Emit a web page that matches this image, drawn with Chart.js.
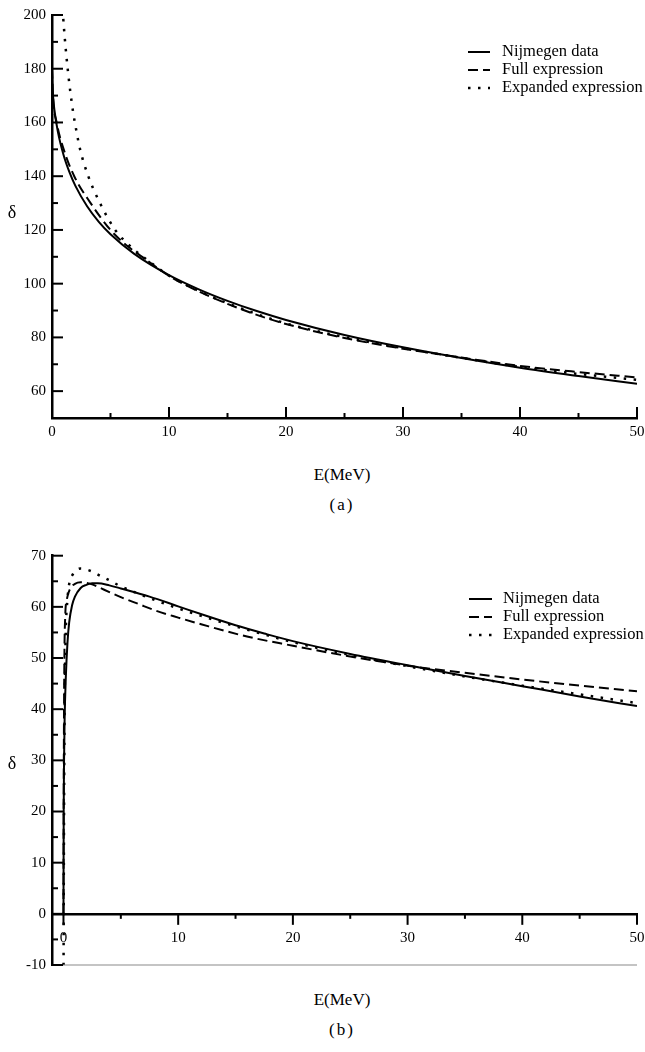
<!DOCTYPE html>
<html>
<head>
<meta charset="utf-8">
<script src="https://cdn.jsdelivr.net/npm/chart.js@4.4.1/dist/chart.umd.min.js"></script>
<style>
  body { margin: 0; background: #fff; width: 645px; height: 1052px; position: relative; overflow: hidden; font-family: "Liberation Serif", serif; color: #000; }
  canvas { position: absolute; left: 0; }
  #chartA { top: 0; }
  #chartB { top: 540px; }
  .lbl { position: absolute; transform: translate(-50%, -50%); white-space: nowrap; }
</style>
</head>
<body>
<canvas id="chartA" width="645" height="445"></canvas>
<canvas id="chartB" width="645" height="440"></canvas>
<div class="lbl" style="left:12px;top:212px;font-size:18px">δ</div>
<div class="lbl" style="left:342px;top:475px;font-size:17px">E(MeV)</div>
<div class="lbl" style="left:342px;top:505px;font-size:17px;letter-spacing:2px">(a)</div>
<div class="lbl" style="left:12px;top:763px;font-size:18px">δ</div>
<div class="lbl" style="left:342px;top:1000px;font-size:17px">E(MeV)</div>
<div class="lbl" style="left:342px;top:1030px;font-size:17px;letter-spacing:2px">(b)</div>
<script>
const seriesNames = ["Nijmegen data", "Full expression", "Expanded expression"];

// ---- panel (a) ----
const aNijE = [0, 0.05, 0.1, 0.2, 0.5, 1, 1.5, 2, 3, 4, 5, 7, 10, 12.5, 15, 17.5, 20, 25, 30, 35, 40, 45, 50];
const aNij  = [180, 172.4, 169.3, 164.9, 156.6, 147.7, 141.4, 136.4, 128.8, 123, 118.4, 111.2, 103.2, 98, 93.6, 89.8, 86.5, 80.9, 76.3, 72.3, 68.7, 65.6, 62.7];
const aFullE = [0, 0.08, 0.4, 1, 1.9, 3.3, 5, 6.5, 8, 10, 12.5, 15, 17.5, 20, 25, 30, 35, 40, 45, 50];
const aFull  = [180, 170, 160, 150, 140, 130, 120, 113.8, 109.1, 102.9, 97.2, 92.5, 88.4, 85.0, 79.8, 75.8, 72.5, 69.4, 67.1, 65.1];
const aExpE = [0.85, 0.94, 1.1, 1.34, 1.55, 1.8, 2.1, 2.4, 3.1, 4.1, 5.4, 6.8, 8, 10, 12.5, 15, 17.5, 20, 25, 30, 35, 40, 45, 50];
const aExp  = [206, 200, 191, 180, 172, 164, 156.5, 150, 140, 130, 120, 113.5, 109.3, 103.0, 97.4, 92.7, 88.7, 85.2, 80.1, 76.0, 72.4, 69.0, 66.4, 64.2];
const aXTicks = [0, 10, 20, 30, 40, 50];
const aXMinor = [5, 15, 25, 35, 45];
const aYTicks = [60, 80, 100, 120, 140, 160, 180, 200];
const aYMinor = [70, 90, 110, 130, 150, 170, 190];

// ---- panel (b) ----
const bNijE = [0, 0.02, 0.05, 0.1, 0.2, 0.35, 0.5, 0.75, 1, 1.5, 2, 2.5, 3, 4, 5, 7.5, 10, 12.5, 15, 17.5, 20, 25, 30, 35, 40, 45, 50];
const bNij  = [0, 20, 30, 38, 46, 53, 57, 60.3, 62, 63.7, 64.3, 64.6, 64.6, 64.2, 63.6, 62.0, 60.1, 58.2, 56.4, 54.8, 53.3, 50.8, 48.6, 46.5, 44.5, 42.5, 40.6];
const bFullE = [0, 0.03, 0.08, 0.15, 0.3, 0.6, 1, 1.5, 2, 2.5, 3.5, 5, 6.5, 8, 10, 12, 16, 20, 25, 30, 35, 40, 45, 50];
const bFull  = [0, 30, 50, 58, 61.5, 63.6, 64.5, 64.8, 64.7, 64.4, 63.4, 61.9, 60.6, 59.3, 57.9, 56.6, 54.2, 52.4, 50.3, 48.5, 47.1, 45.8, 44.6, 43.5];
const bExpE = [0.005, 0.02, 0.05, 0.1, 0.2, 0.35, 0.5, 0.8, 1.2, 1.5, 2, 2.5, 3, 4, 5, 6.5, 8, 10, 12.5, 15, 17.5, 20, 25, 30, 35, 40, 45, 50];
const bExp  = [-12, 0, 20, 40, 55, 61.5, 64.5, 66.3, 67.3, 67.5, 67.3, 66.9, 66.3, 65.2, 64.0, 62.6, 61.3, 59.7, 57.9, 56.2, 54.6, 53.1, 50.6, 48.4, 46.4, 44.6, 42.9, 41.2];
const bXTicks = [0, 10, 20, 30, 40, 50];
const bXMinor = [5, 15, 25, 35, 45];
const bYTicks = [-10, 0, 10, 20, 30, 40, 50, 60, 70];
const bYMinor = [-5, 5, 15, 25, 35, 45, 55, 65];

const tickFont = { family: '"Liberation Serif"', size: 15 };
const pts = (xs, ys) => xs.map((x, i) => ({ x, y: ys[i] }));

function makeSets(e1, v1, e2, v2, e3, v3) {
  const base = { fill: false, pointRadius: 0, borderColor: "#000", cubicInterpolationMode: "monotone", clip: 0 };
  return [
    { ...base, label: seriesNames[0], data: pts(e1, v1), borderWidth: 2 },
    { ...base, label: seriesNames[1], data: pts(e2, v2), borderWidth: 2, borderDash: [10, 5] },
    { ...base, label: seriesNames[2], data: pts(e3, v3), borderWidth: 2.5, borderDash: [2.5, 7.5] },
  ];
}

// inward tick marks, floor line and legend
const axisTicks = {
  id: "axisTicks",
  afterDraw(chart, args, o) {
    const { ctx, chartArea: area, scales } = chart;
    const xs = scales.x, ys = scales.y;
    const base = ys.getPixelForValue(o.xAxisAt);
    const seg = (x1, y1, x2, y2) => { ctx.beginPath(); ctx.moveTo(x1, y1); ctx.lineTo(x2, y2); ctx.stroke(); };
    ctx.save();
    if (o.floorLine) {
      ctx.strokeStyle = "#8a8a8a";
      ctx.lineWidth = 1.2;
      seg(area.left, area.bottom, area.right, area.bottom);
    }
    ctx.strokeStyle = "#000";
    ctx.lineWidth = 2;
    o.yMajor.forEach(v => { const p = ys.getPixelForValue(v); seg(area.left, p, area.left + 11, p); });
    o.yMinor.forEach(v => { const p = ys.getPixelForValue(v); seg(area.left, p, area.left + 6, p); });
    o.xMajor.forEach(v => { const p = xs.getPixelForValue(v); seg(p, base, p, base + o.dir * 11); });
    o.xMinor.forEach(v => { const p = xs.getPixelForValue(v); seg(p, base, p, base + o.dir * 5); });

    // legend
    const lg = o.legend;
    ctx.font = '16.5px "Liberation Serif"';
    ctx.fillStyle = "#000";
    ctx.textBaseline = "middle";
    chart.data.datasets.forEach((ds, i) => {
      const y = lg.y + i * lg.gap;
      ctx.lineWidth = ds.borderWidth;
      ctx.setLineDash(ds.borderDash || []);
      seg(lg.x, y, lg.x + lg.len, y);
      ctx.setLineDash([]);
      ctx.fillText(ds.label, lg.textX, y);
    });
    ctx.restore();
  }
};

function makeChart(id, sets, cfg) {
  return new Chart(document.getElementById(id), {
    type: "line",
    data: { datasets: sets },
    plugins: [axisTicks],
    options: {
      responsive: false,
      animation: false,
      layout: { padding: cfg.padding },
      plugins: { legend: { display: false }, tooltip: { enabled: false }, axisTicks: cfg.ticks },
      scales: {
        x: {
          type: "linear", min: cfg.xMin, max: 50,
          position: cfg.xPosition,
          grid: { display: false, drawTicks: false },
          border: { display: true, color: "#000", width: 2.5 },
          ticks: { font: tickFont, color: "#000", padding: cfg.xPad, maxRotation: 0 },
          afterBuildTicks: s => { s.ticks = cfg.xTicks.map(v => ({ value: v })); },
          afterFit: s => {
            s.paddingLeft = 0;
            s.paddingRight = 0;
            if (cfg.xHeight) s.height = cfg.xHeight;
          },
        },
        y: {
          type: "linear", min: cfg.yMin, max: cfg.yMax,
          grid: { display: false, drawTicks: false },
          border: { display: true, color: "#000", width: 2.5 },
          ticks: { font: tickFont, color: "#000", padding: 6 },
          afterBuildTicks: s => { s.ticks = cfg.yTicks.map(v => ({ value: v })); },
          afterFit: s => { s.width = 52; },
        },
      },
    },
  });
}

makeChart("chartA", makeSets(aNijE, aNij, aFullE, aFull, aExpE, aExp), {
  padding: { top: 9, right: 8, left: 0, bottom: 0 },
  xMin: 0, yMin: 50, yMax: 200, xPosition: "bottom", xHeight: 27, xPad: 5,
  xTicks: aXTicks, yTicks: aYTicks,
  ticks: { xAxisAt: 50, dir: -1, yMajor: aYTicks, yMinor: aYMinor, xMajor: aXTicks, xMinor: aXMinor,
           floorLine: false, legend: { x: 468, y: 52, gap: 18, len: 22, textX: 502 } },
});

makeChart("chartB", makeSets(bNijE, bNij, bFullE, bFull, bExpE, bExp), {
  padding: { top: 15.7, right: 8, left: 0, bottom: 14.3 },
  xMin: -1, yMin: -10, yMax: 70, xPosition: { y: 0 }, xHeight: 0, xPad: 15,
  xTicks: bXTicks, yTicks: bYTicks,
  ticks: { xAxisAt: 0, dir: 1, yMajor: bYTicks, yMinor: bYMinor, xMajor: bXTicks, xMinor: bXMinor,
           floorLine: true, legend: { x: 469, y: 59, gap: 18, len: 23, textX: 503 } },
});
</script>
</body>
</html>
